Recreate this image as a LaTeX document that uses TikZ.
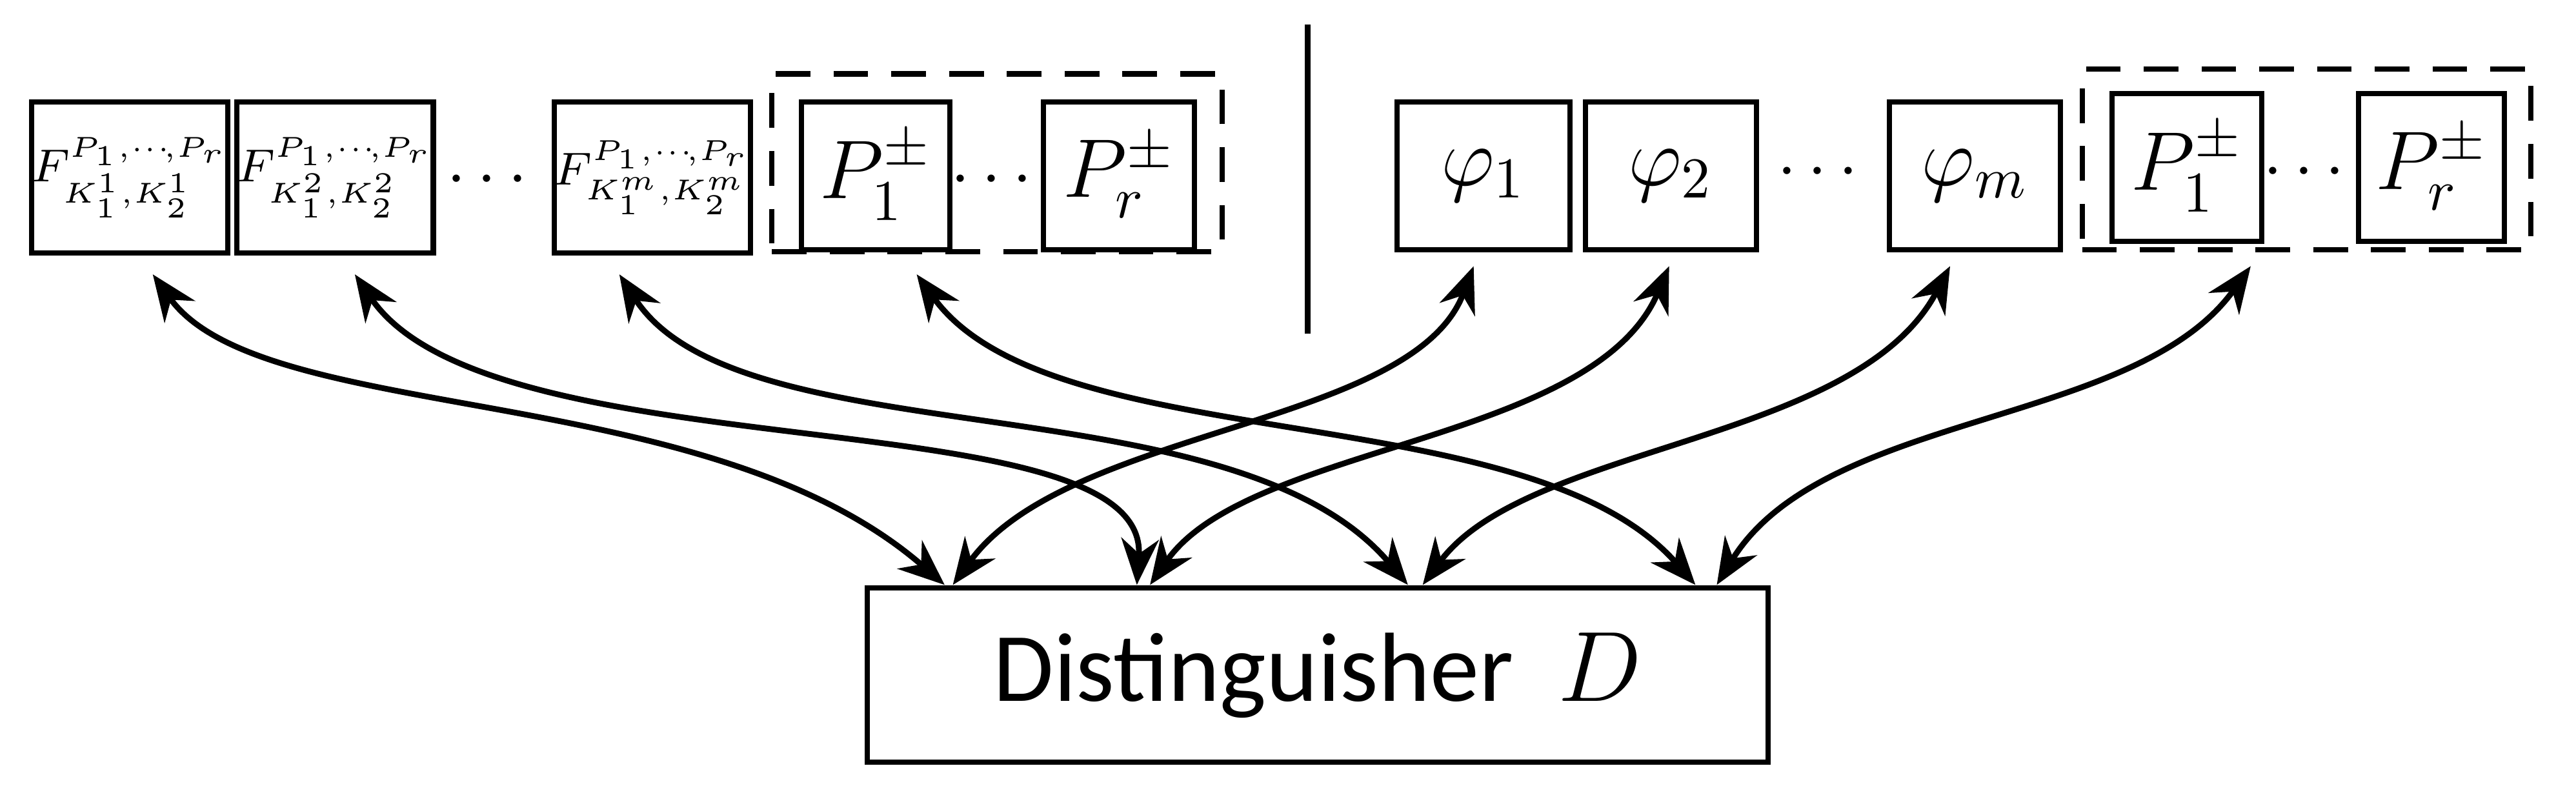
\documentclass[tikz,border=0pt]{standalone}
\usepackage{fontspec}
\setmainfont{Carlito}
\usepackage{amsmath}
\usetikzlibrary{arrows.meta}
\begin{document}
\begin{tikzpicture}[x=0.01cm,y=-0.01cm,
  bx/.style={draw,line width=0.9pt,inner sep=0pt,minimum height=0.92cm},
  dsh/.style={draw,line width=0.9pt,dash pattern=on 6pt off 4pt},
  con/.style={line width=1pt,{Stealth[length=8pt,width=6.5pt]}-{Stealth[length=8pt,width=6.5pt]}},
  fs/.style={font=\fontsize{7.6}{8}\selectfont},
  bs/.style={font=\fontsize{14}{14}\selectfont},
  ds/.style={inner sep=0pt,font=\fontsize{12}{12}\selectfont}]
\useasboundingbox (0,0) rectangle (1568,485);
% left
\node[bx,fs,minimum width=1.18cm] (f1) at (79,108) {$F^{P_1,\cdots\!,P_r}_{K_1^1,K_2^1}$};
\node[bx,fs,minimum width=1.15cm] (f2) at (204,108) {$F^{P_1,\cdots\!,P_r}_{K_1^2,K_2^2}$};
\node[ds] (d1) at (300,110) {$\cdots$};
\node[bx,fs,minimum width=1.16cm] (f3) at (397,108) {$F^{P_1,\cdots\!,P_r}_{K_1^m,K_2^m}$};
\node[dsh,minimum width=2.74cm,minimum height=1.08cm] (g1) at (607,99) {};
\node[bx,bs,minimum width=0.9cm,minimum height=0.9cm] (p1) at (533,107) {$P_1^{\pm}$};
\node[ds] (d2) at (607,110) {$\cdots$};
\node[bx,bs,minimum width=0.92cm,minimum height=0.9cm] (pr) at (681,107) {$P_r^{\pm}$};
% separator
\coordinate (s1) at (796,15); \coordinate (s2) at (796,203);
\draw[line width=1pt] (s1) -- (s2);
% right
\node[bx,bs,minimum width=1.05cm,minimum height=0.9cm] (h1) at (903,107) {$\varphi_1$};
\node[bx,bs,minimum width=1.04cm,minimum height=0.9cm] (h2) at (1017,107) {$\varphi_2$};
\node[ds] (d3) at (1110,105) {$\cdots$};
\node[bx,bs,minimum width=1.04cm,minimum height=0.9cm] (h3) at (1202,107) {$\varphi_m$};
\node[dsh,minimum width=2.73cm,minimum height=1.1cm] (g2) at (1404,97) {};
\node[bx,bs,minimum width=0.91cm,minimum height=0.9cm] (q1) at (1331,102) {$P_1^{\pm}$};
\node[ds] (d4) at (1406,105) {$\cdots$};
\node[bx,bs,minimum width=0.89cm,minimum height=0.9cm] (qr) at (1480,102) {$P_r^{\pm}$};
% distinguisher
\node[draw,line width=0.9pt,minimum width=5.48cm,minimum height=1.06cm,font=\fontsize{17}{17}\selectfont] (D) at (802,411) {Distinguisher\ \ $D$};
% endpoints
\coordinate (a1) at (93,167); \coordinate (a2) at (216,167); \coordinate (a3) at (377,167); \coordinate (a4) at (558,167);
\coordinate (b1) at (897,162); \coordinate (b2) at (1016,162); \coordinate (b3) at (1187,162); \coordinate (b4) at (1370,162);
\coordinate (l1) at (575,356); \coordinate (l2) at (692,356); \coordinate (l3) at (857,356); \coordinate (l4) at (1032,356);
\coordinate (r1) at (580,356); \coordinate (r2) at (700,356); \coordinate (r3) at (866,356); \coordinate (r4) at (1045,356);
\draw[con] (a1) .. controls (160,260) and (430,230) .. (l1);
\draw[con] (a2) .. controls (300,290) and (700,240) .. (l2);
\draw[con] (a3) .. controls (450,280) and (750,230) .. (l3);
\draw[con] (a4) .. controls (640,280) and (930,240) .. (l4);
\draw[con] (b1) .. controls (860,260) and (650,260) .. (r1);
\draw[con] (b2) .. controls (970,270) and (760,270) .. (r2);
\draw[con] (b3) .. controls (1130,270) and (930,270) .. (r3);
\draw[con] (b4) .. controls (1300,260) and (1110,250) .. (r4);
\end{tikzpicture}
\end{document}
